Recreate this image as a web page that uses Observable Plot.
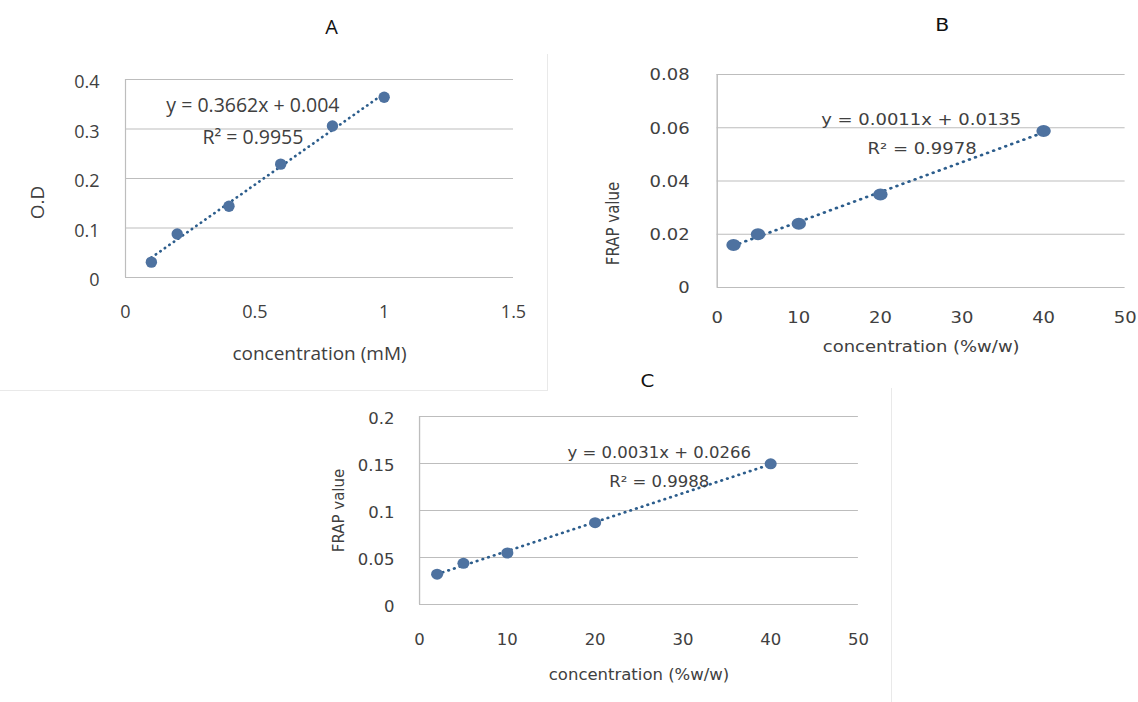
<!DOCTYPE html>
<html>
<head>
<meta charset="utf-8">
<script src="https://cdn.jsdelivr.net/npm/d3@7"></script>
<script src="https://cdn.jsdelivr.net/npm/@observablehq/plot@0.6"></script>
<style>
  html, body { margin: 0; padding: 0; background: #fff; }
  #wrap { position: relative; width: 1138px; height: 702px; overflow: hidden; background: #fff; }
  .panel { position: absolute; transform-origin: 0 0; }
  .edge { position: absolute; background: #e9e9e9; }
</style>
</head>
<body>
<div id="wrap">
  <div class="edge" style="left:0px; top:390px; width:547px; height:1px;"></div>
  <div class="edge" style="left:547px; top:54px; width:1px; height:337px;"></div>
  <div class="edge" style="left:891px; top:388px; width:1px; height:314px;"></div>
  <div id="pA" class="panel" style="left:0px; top:0px;"></div>
  <div id="pB" class="panel" style="left:590px; top:0px; transform:scaleX(1.2);"></div>
  <div id="pC" class="panel" style="left:320px; top:360px; transform:scaleX(1.1);"></div>
</div>
<script>
// ---------- Data ----------
// Panel A
const xA = [0.1, 0.2, 0.4, 0.6, 0.8, 1.0];
const yA = [0.031, 0.088, 0.144, 0.229, 0.306, 0.364];
const xTicksA = [0, 0.5, 1, 1.5];
const yTicksA = [0, 0.1, 0.2, 0.3, 0.4];
const eqA = ["y = 0.3662x + 0.004", "R² = 0.9955"];
const titleA = "A", xLabelA = "concentration (mM)", yLabelA = "O.D";

// Panel B
const xB = [2, 5, 10, 20, 40];
const yB = [0.0160, 0.0200, 0.0239, 0.0349, 0.0588];
const xTicksB = [0, 10, 20, 30, 40, 50];
const yTicksB = [0, 0.02, 0.04, 0.06, 0.08];
const eqB = ["y = 0.0011x + 0.0135", "R² = 0.9978"];
const titleB = "B", xLabelB = "concentration (%w/w)", yLabelB = "FRAP value";

// Panel C
const xC = [2, 5, 10, 20, 40];
const yC = [0.0322, 0.0438, 0.0548, 0.0870, 0.1497];
const xTicksC = [0, 10, 20, 30, 40, 50];
const yTicksC = [0, 0.05, 0.1, 0.15, 0.2];
const eqC = ["y = 0.0031x + 0.0266", "R² = 0.9988"];
const titleC = "C", xLabelC = "concentration (%w/w)", yLabelC = "FRAP value";

// ---------- Styles ----------
const gridColor = "#bdbdbd";
const dotColor = "#4e72a0";
const trendColor = "#2c5d8c";
const textColor = "#404040";
const fmt = d => String(d);

function panel(cfg) {
  const data = cfg.xs.map((x, i) => ({x, y: cfg.ys[i]}));
  const eqData = cfg.eq.map((t, i) => ({x: cfg.eqPos[i][0], y: cfg.eqPos[i][1], t}));
  return Plot.plot({
    width: cfg.width, height: cfg.height,
    marginLeft: cfg.ml, marginRight: cfg.mr, marginTop: cfg.mt, marginBottom: cfg.mb,
    x: {domain: [cfg.xTicks[0], cfg.xTicks[cfg.xTicks.length - 1]]},
    y: {domain: [cfg.yTicks[0], cfg.yTicks[cfg.yTicks.length - 1]]},
    style: {fontFamily: cfg.font, fontSize: cfg.tickSize + "px", color: textColor, background: "transparent", overflow: "visible"},
    marks: [
      Plot.gridY({ticks: cfg.yTicks, stroke: gridColor, strokeOpacity: 1, strokeWidth: 1.2}),
      Plot.ruleX([cfg.xTicks[0]], {stroke: gridColor, strokeWidth: 1.2}),
      Plot.axisX({ticks: cfg.xTicks, tickSize: 0, tickPadding: cfg.xPad, label: null, tickFormat: fmt, fill: textColor}),
      Plot.axisY({ticks: cfg.yTicks, tickSize: 0, tickPadding: cfg.yPad, label: null, tickFormat: fmt, dy: cfg.yDy, fill: textColor}),
      Plot.linearRegressionY(data, {x: "x", y: "y", ci: 0, stroke: trendColor, strokeWidth: 2.7, strokeDasharray: "0.3 5.2", strokeLinecap: "round"}),
      Plot.dot(data, {x: "x", y: "y", r: cfg.r, fill: dotColor, stroke: "none"}),
      Plot.text(eqData, {x: "x", y: "y", text: "t", fontSize: cfg.eqSize, fill: textColor}),
      Plot.text([cfg.xLabel], {frameAnchor: "bottom", lineAnchor: "middle", textAnchor: "middle", dy: cfg.xLabDy, fontSize: cfg.labSize, fill: textColor}),
      Plot.text([cfg.yLabel], {frameAnchor: "left", lineAnchor: "middle", textAnchor: "middle", rotate: -90, dx: cfg.yLabDx, dy: cfg.yLabDy, fontSize: cfg.labSize, fill: textColor}),
      Plot.text([cfg.title], {frameAnchor: "top", lineAnchor: "middle", textAnchor: "middle", dx: cfg.titleDx, dy: cfg.titleDy, fontSize: cfg.titleSize, fill: "#111"})
    ]
  });
}

document.getElementById("pA").append(panel({
  xs: xA, ys: yA, xTicks: xTicksA, yTicks: yTicksA, eq: eqA,
  eqPos: [[0.4925, 0.3474], [0.4925, 0.2823]],
  title: titleA, xLabel: xLabelA, yLabel: yLabelA,
  width: 560, height: 395, ml: 125, mr: 47, mt: 79, mb: 118,
  font: "'Open Sans', sans-serif", tickSize: 18, eqSize: 19.5, labSize: 19, titleSize: 20,
  xPad: 28, yPad: 26, yDy: 3, r: 5.7,
  xLabDy: 76, yLabDx: -87.7, yLabDy: 24, titleDx: 12, titleDy: -52
}));

document.getElementById("pB").append(panel({
  xs: xB, ys: yB, xTicks: xTicksB, yTicks: yTicksB, eq: eqB,
  eqPos: [[25.0, 0.0628], [25.1, 0.0519]],
  title: titleB, xLabel: xLabelB, yLabel: yLabelB,
  width: 456, height: 370, ml: 105.5, mr: 10.5, mt: 74, mb: 83,
  font: "'DejaVu Sans', sans-serif", tickSize: 15, eqSize: 15, labSize: 15, titleSize: 17,
  xPad: 25, yPad: 23, yDy: 1, r: 6,
  xLabDy: 60, yLabDx: -86.4, yLabDy: 42.5, titleDx: 17.5, titleDy: -49
}));

document.getElementById("pC").append(panel({
  xs: xC, ys: yC, xTicks: xTicksC, yTicks: yTicksC, eq: eqC,
  eqPos: [[27.3, 0.161], [27.3, 0.130]],
  title: titleC, xLabel: xLabelC, yLabel: yLabelC,
  width: 521, height: 342, ml: 90, mr: 32, mt: 56, mb: 98,
  font: "'DejaVu Sans', sans-serif", tickSize: 15, eqSize: 15, labSize: 15, titleSize: 18,
  xPad: 30, yPad: 22.7, yDy: 2.5, r: 5.5,
  xLabDy: 70.7, yLabDx: -73.4, yLabDy: 0, titleDx: 7.7, titleDy: -35
}));
</script>
</body>
</html>
